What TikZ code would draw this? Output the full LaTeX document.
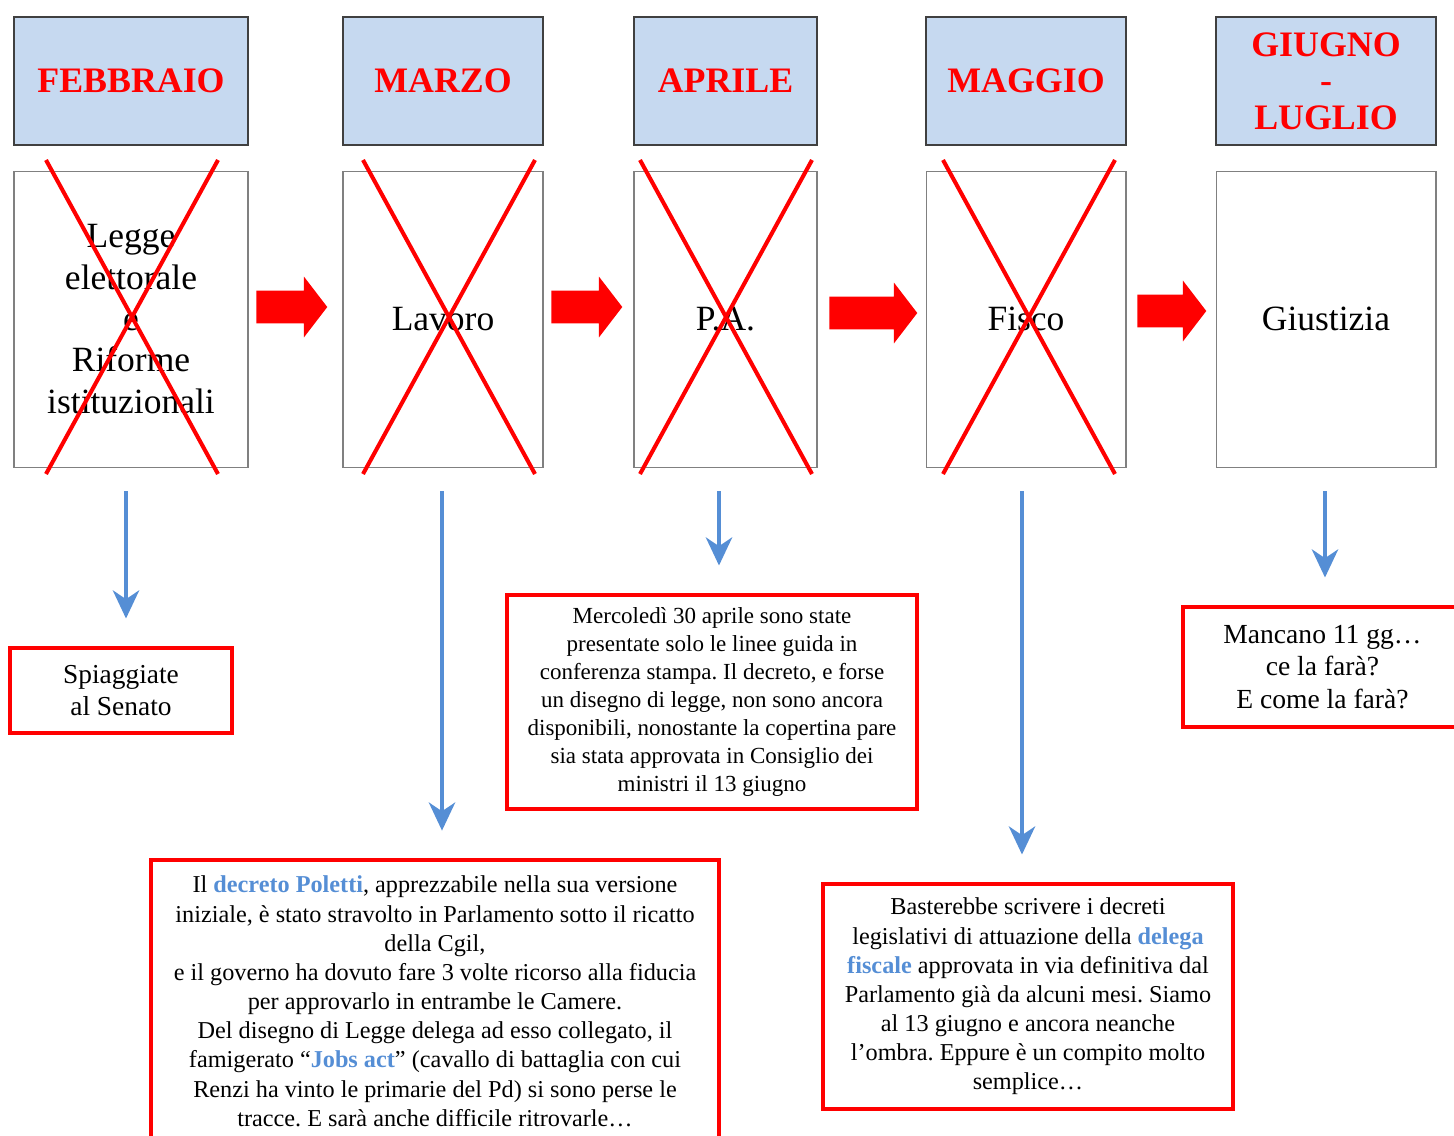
\documentclass[tikz,border=0pt]{standalone}
\usepackage{fontspec}
\setmainfont{Liberation Serif}
\usetikzlibrary{arrows.meta,positioning,shapes.arrows}
\frenchspacing

\definecolor{headfill}{RGB}{198,217,240}
\definecolor{linkblue}{RGB}{85,142,213}

\tikzset{
  month/.style={draw=black!75, line width=0.7pt, fill=headfill, minimum height=2.56cm,
    align=center, text=red, font=\bfseries\fontsize{20.4}{20.7}\selectfont},
  topic/.style={draw=black!50, line width=0.6pt, minimum height=5.92cm, align=center,
    font=\fontsize{20.2}{23.5}\selectfont},
  note/.style={draw=red, line width=2.4pt, align=center, inner sep=0pt},
  blockarrow/.style={single arrow, fill=red, draw=none, inner xsep=0pt, inner ysep=0.32cm,
    minimum width=1.2cm, single arrow head extend=0.28cm, single arrow tip angle=105},
  tonote/.style={-{Stealth[length=16pt,width=15pt,inset=5pt]}, draw=linkblue, line width=2.1pt,
    shorten <=13.6pt, shorten >=15.6pt},
  strike/.style={red, line width=2.3pt}
}
\newcommand{\hl}[1]{\textcolor{linkblue}{\textbf{#1}}}

\begin{document}
\begin{tikzpicture}[x=0.02cm, y=-0.02cm]
  \useasboundingbox (0,0) rectangle (1454,1136);
  \clip (0,0) rectangle (1454,1136);
  % months
  \node[month, minimum width=4.68cm] (h1) at (131,81) {FEBBRAIO};
  \node[month, minimum width=4.0cm] (h2) at (443,81) {MARZO};
  \node[month, minimum width=3.66cm] (h3) at (725.5,81) {APRILE};
  \node[month, minimum width=4.0cm] (h4) at (1026,81) {MAGGIO};
  \node[month, minimum width=4.4cm] (h5) at (1326,81) {GIUGNO\\-\\LUGLIO};
  % topics
  \node[topic, minimum width=4.68cm, below=0.5cm of h1] (c1) {Legge\\elettorale\\e\\Riforme\\istituzionali};
  \node[topic, minimum width=4.0cm, below=0.5cm of h2] (c2) {Lavoro};
  \node[topic, minimum width=3.66cm, below=0.5cm of h3] (c3) {P.A.};
  \node[topic, minimum width=4.0cm, below=0.5cm of h4] (c4) {Fisco};
  \node[topic, minimum width=4.4cm, below=0.5cm of h5] (c5) {Giustizia};
  % crossed out
  \foreach \cx in {132,449,726,1029} {
    \draw[strike] ({\cx-86},160) -- ({\cx+86},474);
    \draw[strike] ({\cx+86},160) -- ({\cx-86},474);
  }
  % red arrows between topics
  \node[blockarrow, minimum height=1.42cm] (a1) at (285.5,307) {};
  \node[blockarrow, minimum height=1.42cm] (a2) at (580.5,307) {};
  \node[blockarrow, minimum height=1.76cm] (a3) at (867,313) {};
  \node[blockarrow, minimum height=1.38cm] (a4) at (1165.5,311) {};
  % notes
  \node[note, minimum width=4.44cm, minimum height=1.7cm, font=\fontsize{15.6}{18.1}\selectfont]
    (n1) at (121,690.5) {Spiaggiate\\al Senato};
  \node[note, anchor=north, minimum width=11.36cm, inner ysep=0.32cm, font=\fontsize{13.8}{16.6}\selectfont]
    (n2) at (435,858) {Il \hl{decreto Poletti}, apprezzabile nella sua versione\\
    iniziale, è stato stravolto in Parlamento sotto il ricatto\\della Cgil,\\
    e il governo ha dovuto fare 3 volte ricorso alla fiducia\\
    per approvarlo in entrambe le Camere.\\
    Del disegno di Legge delega ad esso collegato, il\\
    famigerato “\hl{Jobs act}” (cavallo di battaglia con cui\\
    Renzi ha vinto le primarie del Pd) si sono perse le\\
    tracce. E sarà anche difficile ritrovarle…};
  \node[note, minimum width=8.2cm, minimum height=4.28cm, font=\fontsize{13.1}{15.9}\selectfont]
    (n3) at (712,702) {Mercoledì 30 aprile sono state\\presentate solo le linee guida in\\
    conferenza stampa. Il decreto, e forse\\un disegno di legge, non sono ancora\\
    disponibili, nonostante la copertina pare\\sia stata approvata in Consiglio dei\\
    ministri il 13 giugno};
  \node[note, minimum width=8.2cm, minimum height=4.5cm, font=\fontsize{13.8}{16.6}\selectfont]
    (n4) at (1028,996.5) {Basterebbe scrivere i decreti\\
    legislativi di attuazione della \hl{delega}\\
    \hl{fiscale} approvata in via definitiva dal\\
    Parlamento già da alcuni mesi. Siamo\\
    al 13 giugno e ancora neanche\\
    l’ombra. Eppure è un compito molto\\semplice…};
  \node[note, minimum width=5.58cm, minimum height=2.4cm, font=\fontsize{15.7}{18.7}\selectfont]
    (n5) at (1322.5,667) {Mancano 11 gg…\\ce la farà?\\E come la farà?};
  % blue arrows to notes
  \draw[tonote] (126,0 |- c1.south) -- (126,0 |- n1.north);
  \draw[tonote] (442,0 |- c2.south) -- (442,0 |- n2.north);
  \draw[tonote] (719,0 |- c3.south) -- (719,0 |- n3.north);
  \draw[tonote] (1022,0 |- c4.south) -- (1022,0 |- n4.north);
  \draw[tonote] (1325,0 |- c5.south) -- (1325,0 |- n5.north);
\end{tikzpicture}
\end{document}
